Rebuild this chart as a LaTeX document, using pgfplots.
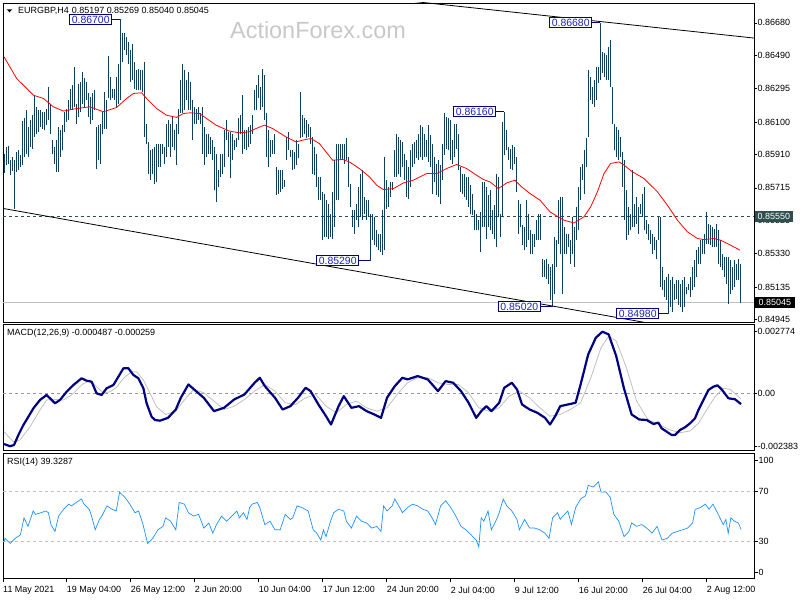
\documentclass[border=0pt]{standalone}
\usepackage{pgfplots}
\pgfplotsset{compat=1.18}
\usepackage{pgfplotstable}
\usepackage{fontspec}
\setmainfont{Liberation Sans}
\definecolor{barc}{RGB}{16,62,92}
\definecolor{navyb}{RGB}{0,0,128}
\definecolor{boxtxt}{RGB}{32,32,192}
\definecolor{rsic}{RGB}{30,144,255}
\definecolor{silv}{RGB}{192,192,192}
\definecolor{lvl}{RGB}{47,79,79}
\definecolor{wm}{RGB}{200,200,200}
\newcommand{\sm}{\fontsize{9}{10}\selectfont}
\tikzset{bx/.style={draw=navyb, fill=white, text=boxtxt, font=\fontsize{10.5}{11}\selectfont, inner xsep=2bp, inner ysep=1.2bp, line width=0.8bp}}

\pgfplotstableread{
h l
0.85912 0.85805
0.85955 0.85848
0.85961 0.85857
0.85877 0.85789
0.85896 0.85813
0.85877 0.85594
0.85926 0.85809
0.85935 0.85818
0.85906 0.85838
0.86107 0.85848
0.86121 0.85896
0.86169 0.85916
0.86072 0.85896
0.86111 0.85955
0.86140 0.85945
0.86261 0.86013
0.86189 0.86033
0.86169 0.86043
0.86169 0.86072
0.86160 0.86062
0.86160 0.86052
0.86179 0.86082
0.86302 0.86111
0.86208 0.86033
0.85994 0.85916
0.85955 0.85857
0.85994 0.85809
0.86072 0.85809
0.86052 0.85896
0.86082 0.85935
0.86160 0.86043
0.86179 0.86101
0.86228 0.86111
0.86296 0.86169
0.86316 0.86169
0.86423 0.86189
0.86208 0.86091
0.86325 0.86130
0.86335 0.86160
0.86394 0.86208
0.86355 0.86189
0.86335 0.86228
0.86267 0.86130
0.86247 0.86091
0.86267 0.86111
0.86286 0.86169
0.86072 0.85828
0.86082 0.85877
0.86091 0.85857
0.86160 0.86033
0.86277 0.86062
0.86228 0.86062
0.86485 0.86238
0.86364 0.86228
0.86296 0.86238
0.86296 0.86228
0.86364 0.86189
0.86442 0.86208
0.86700 0.86228
0.86618 0.86452
0.86618 0.86521
0.86598 0.86491
0.86569 0.86442
0.86520 0.86335
0.86559 0.86345
0.86452 0.86296
0.86403 0.86286
0.86413 0.86286
0.86403 0.86286
0.86403 0.86277
0.86452 0.86013
0.86091 0.85974
0.85984 0.85799
0.85935 0.85760
0.85945 0.85799
0.85955 0.85740
0.85974 0.85750
0.85974 0.85838
0.85974 0.85838
0.85974 0.85916
0.85955 0.85857
0.86091 0.85896
0.86111 0.85955
0.86091 0.85896
0.86130 0.85955
0.86052 0.85935
0.86091 0.85848
0.86179 0.86033
0.86345 0.86150
0.86442 0.86150
0.86403 0.86169
0.86345 0.86228
0.86394 0.86169
0.86335 0.86169
0.86228 0.85994
0.86189 0.86091
0.86179 0.86091
0.86189 0.86111
0.86150 0.86091
0.86189 0.85916
0.86072 0.85848
0.86033 0.85896
0.86033 0.85916
0.86013 0.85916
0.85994 0.85877
0.85955 0.85701
0.85916 0.85633
0.85818 0.85721
0.85916 0.85779
0.85916 0.85799
0.86052 0.85838
0.86111 0.85994
0.86043 0.85896
0.86043 0.85770
0.86033 0.85877
0.85994 0.85935
0.86004 0.85955
0.86121 0.85994
0.86140 0.86033
0.86257 0.85916
0.86052 0.85945
0.86052 0.85935
0.86072 0.85955
0.86082 0.85974
0.86140 0.86033
0.86286 0.86169
0.86316 0.86169
0.86374 0.86238
0.86306 0.86169
0.86413 0.86189
0.86374 0.86111
0.86150 0.85896
0.86052 0.85838
0.85994 0.85896
0.85994 0.85916
0.86033 0.85916
0.85838 0.85672
0.85818 0.85682
0.85818 0.85692
0.85818 0.85711
0.85760 0.85721
0.86013 0.85877
0.86043 0.85935
0.85935 0.85896
0.85935 0.85818
0.85926 0.85828
0.85994 0.85848
0.85974 0.85887
0.86277 0.86004
0.86140 0.86013
0.86121 0.86033
0.86111 0.86004
0.86091 0.86013
0.86072 0.85974
0.86013 0.85799
0.85955 0.85789
0.85916 0.85721
0.85779 0.85643
0.85779 0.85643
0.85692 0.85409
0.85682 0.85428
0.85643 0.85428
0.85623 0.85419
0.85565 0.85428
0.85692 0.85419
0.85877 0.85487
0.85974 0.85643
0.85974 0.85643
0.85974 0.85877
0.85974 0.85877
0.85974 0.85857
0.86004 0.85877
0.85896 0.85721
0.85740 0.85604
0.85584 0.85487
0.85584 0.85448
0.85623 0.85526
0.85721 0.85487
0.85799 0.85545
0.85818 0.85526
0.85662 0.85565
0.85643 0.85526
0.85643 0.85546
0.85565 0.85290
0.85565 0.85409
0.85545 0.85380
0.85467 0.85370
0.85448 0.85350
0.85448 0.85341
0.85584 0.85321
0.85896 0.85350
0.85760 0.85594
0.85721 0.85604
0.85750 0.85662
0.85750 0.85701
0.85935 0.85779
0.86033 0.85779
0.86013 0.85799
0.85994 0.85779
0.85984 0.85838
0.85916 0.85760
0.85877 0.85662
0.85838 0.85653
0.85935 0.85721
0.85974 0.85838
0.85984 0.85857
0.85994 0.85887
0.86033 0.85877
0.86082 0.85896
0.86072 0.85877
0.86033 0.85896
0.85994 0.85896
0.86082 0.85867
0.86023 0.85838
0.85974 0.85682
0.85896 0.85750
0.85857 0.85672
0.85877 0.85662
0.85848 0.85623
0.85974 0.85760
0.86150 0.85906
0.86130 0.85945
0.86121 0.85935
0.86111 0.85877
0.85994 0.85857
0.86091 0.85896
0.86091 0.85945
0.86033 0.85818
0.85838 0.85692
0.85799 0.85682
0.85799 0.85662
0.85779 0.85643
0.85779 0.85604
0.85731 0.85565
0.85682 0.85555
0.85584 0.85467
0.85565 0.85467
0.85526 0.85467
0.85575 0.85341
0.85750 0.85487
0.85750 0.85487
0.85721 0.85419
0.85672 0.85487
0.85701 0.85467
0.85584 0.85448
0.85614 0.85419
0.85799 0.85370
0.85779 0.85545
0.85565 0.85428
0.86100 0.85545
0.86160 0.85906
0.86052 0.85935
0.85955 0.85877
0.85945 0.85828
0.85965 0.85818
0.85955 0.85857
0.85896 0.85692
0.85643 0.85448
0.85623 0.85487
0.85497 0.85380
0.85487 0.85350
0.85643 0.85370
0.85565 0.85409
0.85467 0.85331
0.85448 0.85331
0.85448 0.85370
0.85526 0.85409
0.85565 0.85409
0.85565 0.85409
0.85302 0.85194
0.85292 0.85194
0.85302 0.85185
0.85272 0.85155
0.85253 0.85058
0.85272 0.85020
0.85428 0.85097
0.85409 0.85253
0.85643 0.85389
0.85662 0.85331
0.85662 0.85097
0.85487 0.85331
0.85448 0.85331
0.85448 0.85370
0.85409 0.85272
0.85545 0.85331
0.85487 0.85253
0.85604 0.85409
0.85721 0.85467
0.85838 0.85643
0.85857 0.85760
0.85935 0.85682
0.86004 0.85838
0.86403 0.86013
0.86364 0.86228
0.86306 0.86208
0.86345 0.86189
0.86423 0.86228
0.86423 0.86326
0.86680 0.86345
0.86511 0.86384
0.86501 0.86364
0.86491 0.86345
0.86540 0.86345
0.86579 0.86306
0.86306 0.86091
0.86091 0.85935
0.86072 0.85896
0.86052 0.85877
0.86013 0.85896
0.85926 0.85721
0.85877 0.85526
0.85701 0.85409
0.85604 0.85438
0.85565 0.85467
0.85818 0.85487
0.85623 0.85487
0.85662 0.85506
0.85604 0.85448
0.85623 0.85565
0.85682 0.85545
0.85721 0.85467
0.85526 0.85448
0.85506 0.85409
0.85467 0.85389
0.85448 0.85331
0.85428 0.85350
0.85409 0.85302
0.85545 0.85409
0.85545 0.85136
0.85253 0.85116
0.85175 0.85077
0.85194 0.85058
0.85214 0.84980
0.85175 0.85019
0.85194 0.84990
0.85155 0.85058
0.85175 0.85068
0.85175 0.85029
0.85155 0.85019
0.85175 0.84990
0.85194 0.85019
0.85136 0.85097
0.85155 0.85116
0.85194 0.85077
0.85253 0.85116
0.85292 0.85136
0.85350 0.85194
0.85370 0.85272
0.85409 0.85272
0.85419 0.85331
0.85448 0.85331
0.85575 0.85389
0.85506 0.85389
0.85497 0.85380
0.85487 0.85370
0.85477 0.85370
0.85506 0.85370
0.85467 0.85272
0.85409 0.85253
0.85331 0.85233
0.85311 0.85194
0.85311 0.85155
0.85311 0.85038
0.85292 0.85097
0.85253 0.85116
0.85292 0.85136
0.85272 0.85175
0.85302 0.85175
0.85269 0.85040
}\price

\begin{document}
\begin{tikzpicture}[x=1bp,y=1bp]
% watermark and header texts
\node[anchor=west, font=\fontsize{23.5}{24}\selectfont, text=wm, inner sep=0pt] at (230,-30) {ActionForex.com};
\pgfplotsset{mt/.style={scale only axis, width=751bp, xmin=-0.5, xmax=375,
  axis line style={black, line width=0.8bp},
  xtick=\empty, ytick pos=right, yticklabel pos=right, ytick align=outside,
  scaled y ticks=false, scaled x ticks=false,
  major tick length=2.5bp, tick style={black, line width=0.6bp},
  yticklabel style={font=\sm, anchor=west, inner sep=0pt, xshift=1bp},
  clip=true}}
% ---------------- price panel
\begin{scope}[shift={(3,-322)}]
\begin{axis}[mt, at={(0,0)}, anchor=south west, height=319bp, ymin=0.84931, ymax=0.86796,
  ytick={0.84945,0.85135,0.85330,0.85525,0.85715,0.85910,0.86100,0.86295,0.86490,0.86680},
  yticklabels={0.84945,0.85135,0.85330,0.85525,0.85715,0.85910,0.86100,0.86295,0.86490,0.86680}]
\addplot[lvl, dash pattern=on 3bp off 3bp, line width=0.7bp] coordinates {(-0.5,0.8555) (375,0.8555)};
\addplot[silv, line width=0.7bp] coordinates {(-0.5,0.85045) (375,0.85045)};
\addplot[draw=none, mark=none, error bars/.cd, y dir=plus, y explicit, error mark=none,
  error bar style={draw=barc, line width=1bp}]
  table[x expr=\coordindex, y=l, y error expr=\thisrow{h}-\thisrow{l}] {\price};
\addplot[red, line width=0.8bp] coordinates {(0,0.86482) (6.3,0.86355) (14.7,0.86257) (19.7,0.86238) (24.7,0.86189) (29.7,0.86164) (36.3,0.86179) (43,0.86189) (49.7,0.86160) (56.3,0.86185) (61.3,0.86238) (64.7,0.86267) (68.8,0.86271) (71.3,0.86238) (76.3,0.86179) (81.3,0.86140) (86.3,0.86127) (89.7,0.86150) (93,0.86154) (97.7,0.86150) (106,0.86082) (112.7,0.86047) (117.7,0.86037) (122.7,0.86043) (126,0.86062) (130.2,0.86082) (134.3,0.86062) (141,0.86013) (146,0.85984) (149.3,0.85994) (153.5,0.86004) (157.7,0.85974) (164.3,0.85877) (169.3,0.85881) (172.7,0.85867) (177.7,0.85828) (182.7,0.85780) (186.3,0.85731) (189.7,0.85705) (194.7,0.85711) (199.7,0.85744) (204.7,0.85760) (211.3,0.85799) (216.3,0.85799) (221.3,0.85828) (226.3,0.85852) (231.3,0.85828) (236.3,0.85789) (239.7,0.85764) (243,0.85750) (247.2,0.85711) (251.3,0.85744) (255.5,0.85760) (258.8,0.85721) (263,0.85682) (268,0.85643) (273,0.85575) (277,0.85546) (280,0.85526) (285,0.85510) (290,0.85546) (293.3,0.85604) (296.7,0.85692) (300,0.85799) (303.3,0.85858) (307.5,0.85867) (310,0.85848) (314.2,0.85809) (320,0.85770) (326.7,0.85692) (331.7,0.85614) (336.7,0.85526) (341.7,0.85458) (346.7,0.85419) (350,0.85413) (355,0.85419) (358.3,0.85409) (363.3,0.85380) (368,0.85351)};
\addplot[black, line width=0.8bp] coordinates {(-0.5,0.85595) (375,0.84815)};
\addplot[black, line width=0.8bp] coordinates {(200,0.86811) (375,0.86591)};
\draw[navyb, line width=0.8bp] (axis cs:54,0.86700) -- (axis cs:58,0.86700);
\node[bx, anchor=east] at (axis cs:54,0.86700) {0.86700};
\draw[navyb, line width=0.8bp] (axis cs:294,0.86680) -- (axis cs:298,0.86680);
\node[bx, anchor=east] at (axis cs:294,0.86682) {0.86680};
\draw[navyb, line width=0.8bp] (axis cs:246,0.86160) -- (axis cs:250,0.86160);
\node[bx, anchor=east] at (axis cs:246,0.86160) {0.86160};
\draw[navyb, line width=0.8bp] (axis cs:177.5,0.85290) -- (axis cs:183,0.85290);
\node[bx, anchor=east] at (axis cs:177.5,0.85290) {0.85290};
\draw[navyb, line width=0.8bp] (axis cs:268.3,0.85020) -- (axis cs:274,0.85020);
\node[bx, anchor=east] at (axis cs:268.3,0.85020) {0.85020};
\draw[navyb, line width=0.8bp] (axis cs:327.5,0.84980) -- (axis cs:332,0.84980);
\node[bx, anchor=east] at (axis cs:327.5,0.84980) {0.84980};
\coordinate (l1) at (axis cs:375,0.85550);
\coordinate (l2) at (axis cs:375,0.85045);
\end{axis}
\end{scope}
\node[fill=lvl, text=white, font=\sm, anchor=west, inner xsep=2.5bp, inner ysep=0pt, minimum height=11bp] at ([xshift=1bp]l1) {0.85550};
\node[fill=black, text=white, font=\sm, anchor=west, inner xsep=3.5bp, inner ysep=0pt, minimum height=10.5bp] at ([xshift=1bp]l2) {0.85045};
\fill (6.7,-9.3) -- (12.3,-9.3) -- (9.5,-12.3) -- cycle;
\node[anchor=west, font=\sm, inner sep=0pt] at (18,-10.5) {EURGBP,H4\hspace{3bp}0.85197 0.85269 0.85040 0.85045};
% ---------------- MACD panel
\begin{scope}[shift={(3,-450.5)}]
\begin{axis}[mt, at={(0,0)}, anchor=south west, height=126bp, ymin=-0.002576, ymax=0.003098,
  ytick={-0.002383,0,0.002774}, yticklabels={-0.002383,0.00,0.002774}]
\addplot[gray!80, dash pattern=on 3bp off 3bp, line width=0.6bp] coordinates {(-0.5,0) (375,0)};
\addplot[silv, line width=0.8bp] coordinates {(0,-0.001729) (4.7,-0.00218) (8,-0.002103) (13,-0.001504) (18,-0.000752) (21.3,-0.000302) (24.7,-0.00027) (29.7,-0.000302) (33.8,-0.000077) (38.8,0.000374) (43,0.000599) (46.3,0.000297) (49.7,0) (53,0.000072) (56.3,0.00027) (59.7,0.000675) (63.8,0.000973) (66.3,0.000973) (69.7,0.000599) (73,0) (76.3,-0.000603) (80.8,-0.000955) (85.9,-0.000804) (89.7,-0.000353) (94.8,0.000173) (99.9,0.000023) (105,-0.000353) (110,-0.000729) (115.1,-0.000579) (120.2,-0.000278) (125.3,0.000098) (130.4,0.000398) (135.5,0.000098) (140.6,-0.000428) (145.7,-0.000504) (150.8,-0.000203) (155.9,-0.000053) (161,-0.000579) (166.1,-0.00088) (171.2,-0.000504) (176.3,-0.000353) (181.3,-0.000654) (186.4,-0.000804) (191.5,-0.000654) (196.6,-0.000053) (201.7,0.000474) (206.8,0.000699) (211.9,0.000699) (217,0.000474) (222.1,0.000398) (227.2,0.000398) (232.3,0.000023) (237.4,-0.000654) (242.5,-0.000804) (247.6,-0.000654) (252.6,-0.000128) (257.7,0.000098) (262.8,-0.000203) (267.9,-0.000654) (273,-0.00103) (278.1,-0.000955) (283.2,-0.000729) (288.3,-0.000428) (293.4,0.000699) (298.5,0.002052) (302.3,0.002578) (306.1,0.002353) (311.2,0.00115) (316.3,-0.000353) (321.4,-0.001105) (323,-0.001234) (328,-0.001427) (333,-0.001652) (338,-0.001774) (343,-0.001698) (347.2,-0.001351) (351.3,-0.000752) (355.5,-0.000153) (359.7,0.000225) (363,0.00018) (366.3,-0.000077) (368.5,-0.000259)};
\addplot[navyb, line width=2.2bp, line join=round] coordinates {(0,-0.002283) (3,-0.002383) (5,-0.00233) (7.2,-0.001877) (9.7,-0.001427) (12.2,-0.001054) (14.7,-0.000675) (18,-0.000301) (21.3,-0.000077) (23,-0.000225) (25.5,-0.00045) (28,-0.0003) (31.3,0.000072) (34.7,0.000374) (38.8,0.000675) (41.3,0.000567) (43.8,0.000522) (46.3,0) (48.8,-0.000077) (51.3,0.000225) (54.7,0.000374) (57.2,0.000748) (59.7,0.001126) (62.2,0.001126) (64.7,0.000824) (67.2,0.000675) (69.7,0.000225) (71.3,-0.00045) (73.8,-0.001054) (75.5,-0.001202) (78,-0.001234) (82,-0.001105) (85.9,-0.000729) (88.4,-0.000203) (92.2,0.000398) (96,0.000098) (99.9,-0.000203) (105,-0.000804) (110,-0.000654) (115.1,-0.000278) (120.2,-0.000053) (125.3,0.000474) (127.9,0.000699) (130.4,0.000323) (135.5,-0.000203) (139.3,-0.000729) (143.2,-0.000579) (147,-0.000203) (150.8,0.000248) (153.3,0.000098) (157.2,-0.000504) (161,-0.00103) (163.5,-0.001406) (167.3,-0.000579) (169.9,-0.000128) (173.7,-0.000654) (177.5,-0.000579) (181.3,-0.000804) (185.2,-0.000955) (188.5,-0.001105) (191.5,-0.000203) (195.4,0.000323) (199.2,0.000699) (201.7,0.000624) (206.8,0.000774) (211.9,0.000624) (217,0.000098) (220.8,0.000549) (224.6,0.000474) (228.5,0.000098) (232.3,-0.000428) (236.1,-0.001105) (238.6,-0.000804) (241.2,-0.000579) (243.7,-0.000804) (247.6,-0.000428) (250.1,0.000248) (253.9,0.000474) (256.5,0.000173) (259,-0.000504) (262.8,-0.000729) (266.7,-0.00088) (270.5,-0.001105) (273,-0.001406) (275.6,-0.00103) (278.1,-0.000579) (281.9,-0.000504) (285.8,-0.000428) (288.3,0.000398) (292.1,0.001752) (295.9,0.002503) (299.2,0.002774) (302.3,0.002654) (306.1,0.001676) (309.9,0.000248) (313.8,-0.000955) (317.6,-0.00118) (321.3,-0.001202) (324.7,-0.001382) (327.2,-0.001322) (328.8,-0.001576) (331.3,-0.001727) (333.8,-0.001878) (335.5,-0.001878) (338,-0.001652) (340.5,-0.001531) (343,-0.001351) (345.5,-0.001126) (347.2,-0.000752) (349.7,-0.000302) (352.2,0.000149) (354.7,0.000297) (356.7,0.00036) (358.8,0.00018) (362.2,-0.000225) (365.5,-0.00027) (368.5,-0.000487)};
\end{axis}
\end{scope}
\node[anchor=west, font=\sm, inner sep=0pt] at (7,-333.5) {MACD(12,26,9) -0.000487 -0.000259};
% ---------------- RSI panel
\begin{scope}[shift={(3,-578.5)}]
\begin{axis}[mt, at={(0,0)}, anchor=south west, height=124.8bp, ymin=0, ymax=100,
  ytick={4.6,30,70,94.7}, yticklabels={0,30,70,100},
  xtick={-0.5,31.35,63.35,95.35,127.35,159.35,191.35,223.35,255.35,287.35,319.35,351.35},
  xticklabels={11 May 2021,19 May 04:00,26 May 12:00,2 Jun 20:00,10 Jun 04:00,17 Jun 12:00,24 Jun 20:00,2 Jul 04:00,9 Jul 12:00,16 Jul 20:00,26 Jul 04:00,2 Aug 12:00},
  xtick pos=bottom, xtick align=outside, major tick length=3.5bp,
  xticklabel style={font=\sm, anchor=north west, inner sep=0pt, yshift=-4.5bp}]
\addplot[silv, dash pattern=on 3bp off 3bp, line width=0.6bp] coordinates {(-0.5,70) (375,70)};
\addplot[silv, dash pattern=on 3bp off 3bp, line width=0.6bp] coordinates {(-0.5,30) (375,30)};
\addplot[rsic, line width=0.7bp] coordinates {(0,29.5) (0.5,32.2) (3.1,28.1) (5.6,32.2) (8.2,34.9) (10,48.6) (12,41.8) (14.6,54.1) (15.8,51.4) (18.4,52.7) (20.9,54.1) (22.2,52.7) (23.5,43.2) (25.5,37.7) (27.3,50) (29.8,55.5) (32.4,59.6) (33.7,58.2) (36.2,61) (38.7,63.7) (40,59.6) (42.6,55.5) (43.8,50) (45.6,39) (47.7,47.3) (48.9,50) (51.5,58.2) (54,55.5) (56.1,54.1) (57.8,69.2) (60.4,65.1) (62.9,59.6) (65.5,52.7) (67.3,54.1) (69.3,44.5) (71.8,28.1) (74.4,32.2) (76.9,39) (79.5,41.8) (80.8,48.6) (83.3,45.9) (85.9,39) (87.6,61) (90.2,59.6) (92.2,52.7) (94.8,50) (97.3,51.4) (99.9,40.4) (102.4,44.5) (104.4,36.3) (106.2,43.2) (108.8,50) (111.3,45.9) (113.9,50) (116.4,54.1) (117.7,48.6) (119.7,52.7) (121.5,47.3) (122.8,56.8) (124.1,59.6) (126.6,61) (127.9,56.8) (130.4,43.2) (133,45.9) (135.5,39) (138.1,39) (140.6,51.4) (143.2,47.3) (144.4,48.6) (146.5,58.2) (149,56.8) (152.1,54.1) (154.6,39) (156.4,36.3) (158.4,30.8) (159.7,39) (161,33.6) (163,44.5) (164.8,52.7) (167.3,55.5) (169.9,54.1) (171.2,45.9) (173.7,40.4) (176.3,50) (178.8,45.9) (181.3,44.5) (183.9,40.4) (186.4,41.8) (188.5,37.7) (189.8,58.2) (191.5,54.1) (194.1,58.2) (195.4,63.7) (197.9,56.8) (199.2,52.7) (201.7,56.8) (204.3,59.6) (206.8,58.2) (209.4,55.5) (211.9,54.1) (214.5,47.3) (215.7,43.2) (218.3,58.2) (220.8,62.3) (223.4,56.8) (225.9,50) (228.5,41.8) (231,39) (233.6,34.9) (236.1,30.8) (237.4,25.3) (238.6,48.6) (239.9,45.9) (242,54.1) (243.7,39) (246.3,47.3) (247.6,52.7) (249.6,63.7) (251.4,58.2) (253.9,54.1) (256.5,47.3) (257.7,39) (260.3,47.3) (262.8,40.4) (265.4,40.4) (267.9,39) (270.5,36.3) (272.5,32.2) (274.3,48.6) (276.8,52.7) (278.1,47.3) (279.4,50) (281.9,54.1) (283.7,43.2) (285.8,56.8) (288.3,63.7) (290.8,66.4) (292.1,74.7) (294.7,73.3) (297.2,77.4) (298.5,69.2) (301,69.2) (303.1,65.1) (304.9,51.4) (307.4,45.9) (310,33.6) (312.5,37.7) (313.8,44.5) (316.3,41.8) (318.9,43.2) (321.4,40.4) (324,36.3) (326.5,41.8) (329,30.8) (331.6,32.2) (334.1,36.3) (336.7,37.7) (339.2,39) (341.8,40.4) (344.3,44.5) (345.6,55.5) (348.1,56.8) (350.7,59.6) (352.5,55.5) (354.5,59.6) (357.1,51.4) (359.6,43.2) (360.9,47.3) (362.1,36.3) (363.4,48.6) (365.2,45.9) (367.2,44.5) (368.5,39.3)};
\end{axis}
\end{scope}
\node[anchor=west, font=\sm, inner sep=0pt] at (7,-462.5) {RSI(14) 39.3287};
\pgfresetboundingbox
\path[use as bounding box] (0,0) rectangle (800,-600);
\end{tikzpicture}
\end{document}
